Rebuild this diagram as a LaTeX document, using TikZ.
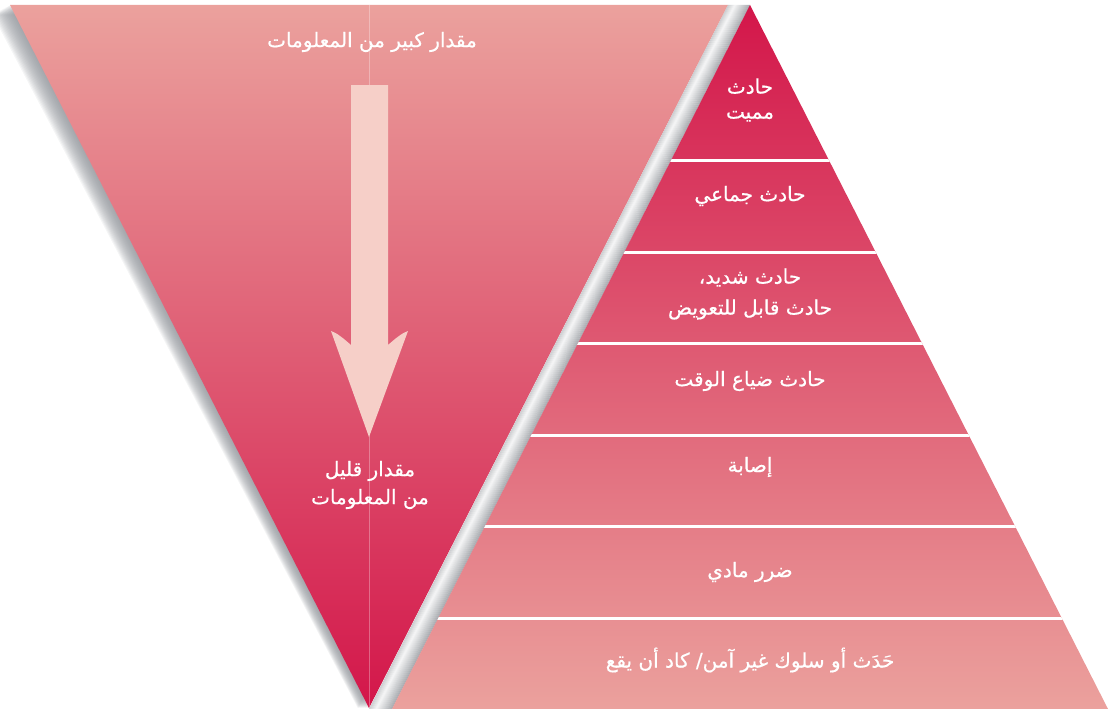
\documentclass[tikz,border=0pt]{standalone}
\usepackage{fontspec}
\newfontfamily\arabicfont[Script=Arabic,FakeBold=0.6]{DejaVu Sans}
\TeXXeTstate=1
\usepackage{tikz}
\usetikzlibrary{calc}
\definecolor{palepink}{RGB}{235,161,157}
\definecolor{midred}{RGB}{223,96,104}
\definecolor{deepred}{RGB}{211,22,74}
\definecolor{arrowpink}{RGB}{246,207,200}
\definecolor{bandgray}{RGB}{140,144,150}
\tikzset{lbl/.style={text=white, font=\arabicfont\fontsize{20}{25}\selectfont, align=center, inner sep=0pt}}
\newcommand{\sepline}[1]{\draw[white, line width=3pt] (380, #1) -- (1108, #1);}
\newcommand{\lablnode}[4]{\node[lbl] (#1) at ( #2 , #3 ) {#4};}

\begin{document}
\begin{tikzpicture}[x=1pt,y=-1pt]
        \useasboundingbox (0,0) rectangle (1108,709);
        % shadow of the funnel
        \foreach \d in {1,...,16}
            \fill[bandgray, opacity=0.09] (10-1.1*\d,5+0.6*\d) -- (728-\d,5+0.6*\d) -- (369-0.7*\d,708) -- cycle;
        % funnel
        \shade[top color=palepink, middle color=midred, bottom color=deepred] (10,5) -- (728,5) -- (369,708) -- cycle;
        \draw[white, opacity=0.3, line width=0.6pt] (369,5) -- (369,707);
        % band between the two triangles
        \foreach \i in {0,...,21} {
            \pgfmathsetmacro{\f}{\i/22}
            \pgfmathsetmacro{\g}{\f<0.3 ? 45-123*\f : 8+(\f-0.3)*100}
            \fill[bandgray!\g!white] (728+22*\f,5) -- (729.2+22*\f,5) -- (370.3+23*\f,709) -- (369+23*\f,709) -- cycle;
        }
        % arrow
        \fill[arrowpink] (351,85) -- (388,85) -- (388,345) .. controls (396,338) and (402,333) .. (408,331)
            -- (369,437) -- (331,331) .. controls (337,333) and (343,338) .. (351,345) -- cycle;
        % pyramid
        \shade[top color=deepred, middle color=midred, bottom color=palepink] (750,5) -- (1108,709) -- (392,709) -- cycle;
        \begin{scope}
            \clip (750,5) -- (1108,709) -- (392,709) -- cycle;
            \sepline{160}
            \sepline{252}
            \sepline{343}
            \sepline{435}
            \sepline{526}
            \sepline{618}
        \end{scope}
        % funnel labels
        \lablnode{much}{372}{42}{\beginR مقدار كبير من المعلومات\endR}
        \lablnode{little}{370}{485}{\beginR مقدار قليل\endR\\[3pt]\beginR من المعلومات\endR}
        % pyramid labels
        \lablnode{fatal}{750}{100}{\beginR حادث\endR\\\beginR مميت\endR}
        \lablnode{multi}{750}{196}{\beginR حادث جماعي\endR}
        \lablnode{severe}{750}{294}{\beginR حادث شديد،\endR\\[6pt]\beginR حادث قابل للتعويض\endR}
        \lablnode{losttime}{750}{381}{\beginR حادث ضياع الوقت\endR}
        \lablnode{injury}{750}{467}{\beginR إصابة\endR}
        \lablnode{damage}{750}{572}{\beginR ضرر مادي\endR}
        \lablnode{nearmiss}{750}{660}{\beginR حَدَث أو سلوك غير آمن/ كاد أن يقع\endR}
\end{tikzpicture}
\end{document}
